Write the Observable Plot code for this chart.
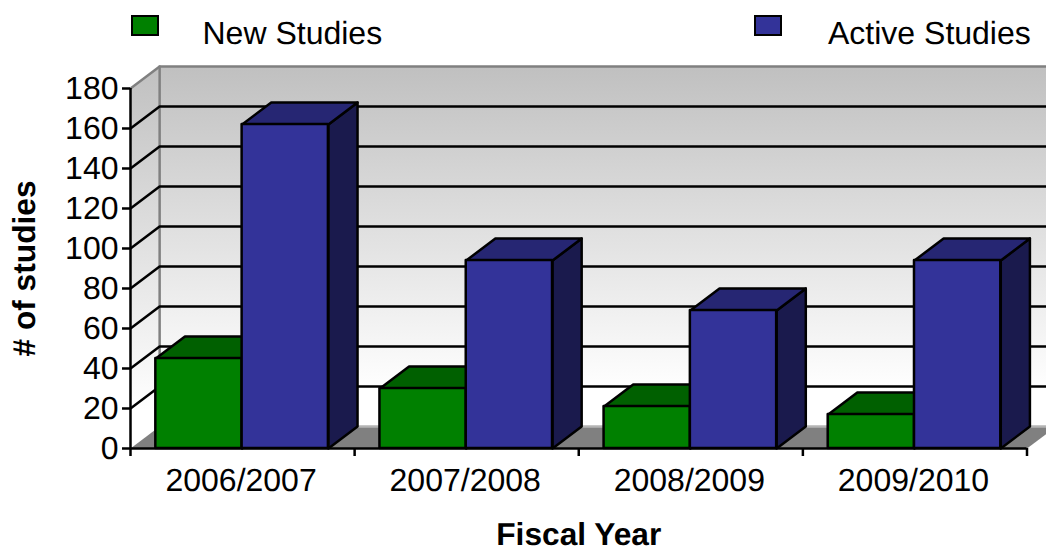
<!DOCTYPE html>
<html>
<head>
<meta charset="utf-8">
<script src="https://cdn.jsdelivr.net/npm/d3@7"></script>
<script src="https://cdn.jsdelivr.net/npm/@observablehq/plot@0.6"></script>
<style>
  html, body { margin: 0; padding: 0; background: #fff; }
  body { width: 1046px; height: 551px; overflow: hidden; font-family: "Liberation Sans", Arial, sans-serif; }
  #legend { position: relative; height: 60px; font-size: 32px; color: #000; text-rendering: geometricPrecision; }
  #legend .swatch { position: absolute; top: 15px; width: 24px; height: 17px; border: 2px solid #000; }
  #legend .name { position: absolute; top: 14px; line-height: 38px; white-space: nowrap; }
</style>
</head>
<body>
<div id="legend"></div>
<div id="chart"></div>
<script>
// Studies per fiscal year
const fiscalYears = ["2006/2007", "2007/2008", "2008/2009", "2009/2010"];
const newStudies = [45, 30, 21, 17];
const activeStudies = [162, 94, 69, 94];
const yTicks = [0, 20, 40, 60, 80, 100, 120, 140, 160, 180];
const seriesNames = ["New Studies", "Active Studies"];

// Face colours: front, top, side
const greenFaces = ["#008000", "#006000", "#004000"];
const blueFaces = ["#333399", "#262673", "#1a1a4d"];

// Extruded depth, in x-scale and y-scale units
const depthX = 0.13;
const depthY = 11;
// Bar extents within a category slot
const barStart = 0.113;
const barWidth = 0.385;

const poly = (pts, fill, extra = {}) =>
  Plot.line(pts, {x: "0", y: "1", fill, stroke: "none", curve: "linear-closed", ...extra});

// Draws one extruded bar: side and top polygons, then the front rect
function bar(x0, x1, value, [front, top, side]) {
  const outline = {stroke: "#000", strokeWidth: 2.5, strokeLinejoin: "round"};
  return [
    poly([[x1, 0], [x1 + depthX, depthY], [x1 + depthX, value + depthY], [x1, value]], side, outline),
    poly([[x0, value], [x0 + depthX, value + depthY], [x1 + depthX, value + depthY], [x1, value]], top, outline),
    Plot.rect([0], {x1: () => x0, x2: () => x1, y1: () => 0, y2: () => value, fill: front, inset: 0, ...outline})
  ];
}

const xMax = fiscalYears.length;
const yMax = yTicks[yTicks.length - 1];
const wall = "#808080";

const marks = [
  // Left wall, back wall and floor
  poly([[0, 0], [depthX, depthY], [depthX, yMax + depthY], [0, yMax]], "url(#wallFill)"),
  poly([[depthX, depthY], [xMax + depthX, depthY], [xMax + depthX, yMax + depthY], [depthX, yMax + depthY]], "url(#wallFill)"),
  poly([[0, 0], [depthX, depthY], [xMax + depthX, depthY], [xMax, 0]], wall),
  // Wall edges
  Plot.line([[0, yMax], [depthX, yMax + depthY], [xMax + depthX, yMax + depthY]], {x: "0", y: "1", stroke: wall, strokeWidth: 2.5}),
  Plot.line([[depthX, depthY], [depthX, yMax + depthY]], {x: "0", y: "1", stroke: wall, strokeWidth: 2.5}),
  Plot.line([[depthX, depthY], [xMax + depthX, depthY]], {x: "0", y: "1", stroke: "#b4b4b4", strokeWidth: 2.5}),
  // Gridlines wrapping the left and back walls
  ...yTicks.filter((v) => v > 0 && v < yMax).map((v) =>
    Plot.line([[0, v], [depthX, v + depthY], [xMax + depthX, v + depthY]], {x: "0", y: "1", stroke: "#000", strokeWidth: 2.5})),
  // Bars, left to right
  ...fiscalYears.flatMap((_, i) => [
    ...bar(i + barStart, i + barStart + barWidth, newStudies[i], greenFaces),
    ...bar(i + barStart + barWidth, i + barStart + 2 * barWidth, activeStudies[i], blueFaces)
  ]),
  // Front floor edge and value axis
  Plot.ruleY([0], {stroke: "#000", strokeWidth: 2.5}),
  Plot.ruleX([0], {stroke: "#000", strokeWidth: 2.5}),
  Plot.axisY({ticks: yTicks, tickSize: 8, tickPadding: 4, strokeWidth: 2.5, label: null, fontSize: 32, tickFormat: (d) => `${d}`}),
  Plot.axisX({ticks: d3.range(xMax + 1), tickSize: 8, strokeWidth: 2.5, tickFormat: () => "", label: null}),
  Plot.axisX({ticks: fiscalYears.map((_, i) => i + 0.5), tickSize: 0, tickPadding: 20, fontSize: 32, dx: -1.5,
    tickFormat: (d) => fiscalYears[Math.floor(d)], label: null}),
  // Axis titles
  Plot.text(["# of studies"], {frameAnchor: "left", textAnchor: "middle", dx: -106, rotate: -90, fontSize: 31.7, fontWeight: "bold", fill: "#000"}),
  Plot.text(["Fiscal Year"], {frameAnchor: "bottom", dy: 96, fontSize: 31.7, fontWeight: "bold", fill: "#000"})
];

const chart = Plot.plot({
  width: 1046,
  height: 491,
  marginLeft: 130,
  marginRight: 19.5,
  marginTop: 28,
  marginBottom: 103,
  x: {domain: [0, xMax], axis: null},
  y: {domain: [0, yMax], axis: null},
  style: {fontFamily: "Liberation Sans, Arial, sans-serif", fontSize: "32px", color: "#000", background: "#fff", textRendering: "geometricPrecision"},
  marks
});

// Vertical wash used by the walls
const grad = d3.select(chart).insert("defs", ":first-child")
  .append("linearGradient").attr("id", "wallFill")
  .attr("x1", 0).attr("y1", 0).attr("x2", 0).attr("y2", 1);
grad.append("stop").attr("offset", "0%").attr("stop-color", "#c0c0c0");
grad.append("stop").attr("offset", "90%").attr("stop-color", "#ffffff");

document.getElementById("chart").append(chart);

// Series key above the plot
const legend = d3.select("#legend");
[[131, 202.5, greenFaces[0]], [754, 828, blueFaces[0]]].forEach(([sx, tx, color], i) => {
  legend.append("div").attr("class", "swatch").style("left", `${sx}px`).style("background", color);
  legend.append("div").attr("class", "name").style("left", `${tx}px`).text(seriesNames[i]);
});
</script>
</body>
</html>
